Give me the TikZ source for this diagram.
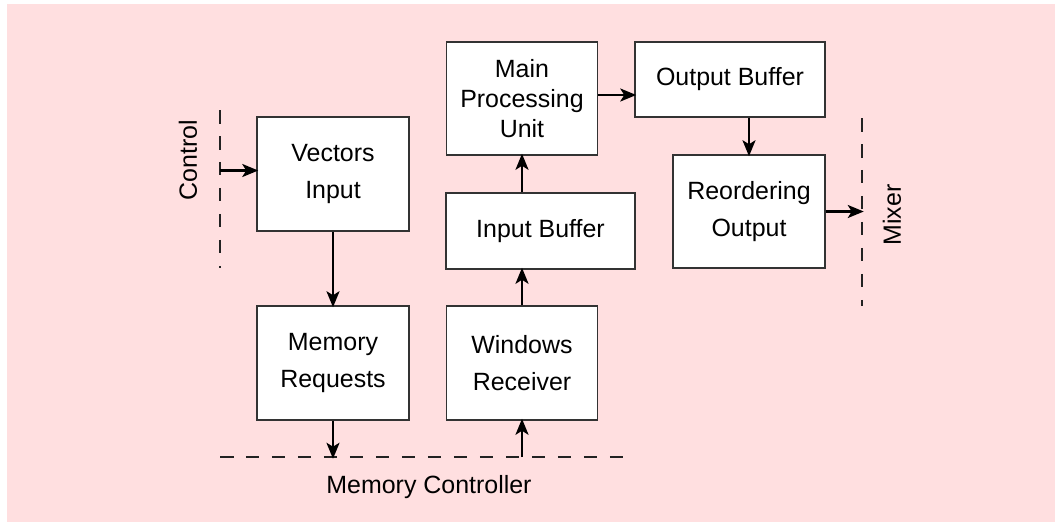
\documentclass[tikz,border=0pt]{standalone}
\usepackage{fontspec}
\setmainfont{Liberation Sans}
\usetikzlibrary{arrows.meta,positioning,calc}
\definecolor{PaleRose}{HTML}{FFDFE0}
\definecolor{BoxLine}{HTML}{333333}
\definecolor{BusLine}{HTML}{222222}

\begin{document}
\begin{tikzpicture}[
  x=0.02cm,y=-0.02cm,
  box/.style={draw=BoxLine,line width=0.6pt,fill=white,align=center,font=\fontsize{14.2}{21.5}\selectfont,inner sep=0pt},
  tallbox/.style={box,font=\fontsize{14.2}{17}\selectfont},
  tag/.style={font=\fontsize{14.2}{17}\selectfont,inner sep=0pt},
  flow/.style={-{Stealth[length=0.32cm,width=0.26cm,inset=0.08cm]},line width=1.4pt,draw=black,shorten >=-1pt},
  bus/.style={draw=BusLine,line width=0.6pt,dash pattern=on 0.27cm off 0.25cm}
]
\useasboundingbox (0,0) rectangle (1055,522);
\fill[PaleRose] (7,4) rectangle (1055,522);
\node[box,minimum width=3.04cm,minimum height=2.28cm] (vin) at (333,174) {Vectors\\Input};
\node[box,minimum width=3.04cm,minimum height=2.28cm] (memreq) at (333,363) {Memory\\Requests};
\node[box,minimum width=3.02cm,minimum height=2.28cm] (winrx) at (522,363) {Windows\\Receiver};
\node[box,minimum width=3.78cm,minimum height=1.52cm] (inbuf) at (540.5,231) {Input Buffer};
\node[tallbox,minimum width=3.02cm,minimum height=2.26cm] (mpu) at (522,98.5) {Main\\Processing\\Unit};
\node[box,minimum width=3.8cm,minimum height=1.5cm] (outbuf) at (730,79.5) {Output Buffer};
\node[box,minimum width=3.04cm,minimum height=2.26cm] (reord) at (749,211.5) {Reordering\\Output};
% dashed interface lines
\coordinate (ctltop) at (220,110);
\coordinate (ctlbot) at (220,268);
\coordinate (mixtop) at (862,118);
\coordinate (mixbot) at (862,306);
\coordinate (mcleft) at (220,457);
\coordinate (mcright) at (628,457);
\draw[bus] (ctltop) -- (ctlbot);
\draw[bus] (mixtop) -- (mixbot);
\draw[bus] (mcleft) -- (mcright);
\node[tag,rotate=90] (ctl) at (188,160) {Control};
\node[tag,rotate=90] (mixer) at (892,215) {Mixer};
\node[tag] (memctl) at (429,487) {Memory Controller};
\draw[flow] ($(ctltop |- vin.west)+(0,-3.5)$) -- ($(vin.west)+(0,-3.5)$);
\foreach \a/\b in {vin/memreq}{\draw[flow] (\a) -- (\b);}
\draw[flow] (memreq) -- (memreq |- mcleft);
\draw[flow] (winrx |- mcleft) -- (winrx);
\draw[flow] (winrx) -- (winrx |- inbuf.south);
\draw[flow] (mpu |- inbuf.north) -- (mpu);
\draw[flow] ($(mpu.east)+(0,-3.5)$) -- ($(mpu.east -| outbuf.west)+(0,-3.5)$);
\draw[flow] (reord |- outbuf.south) -- (reord);
\draw[flow] (reord.east) -- (reord.east -| mixtop);
\end{tikzpicture}
\end{document}
